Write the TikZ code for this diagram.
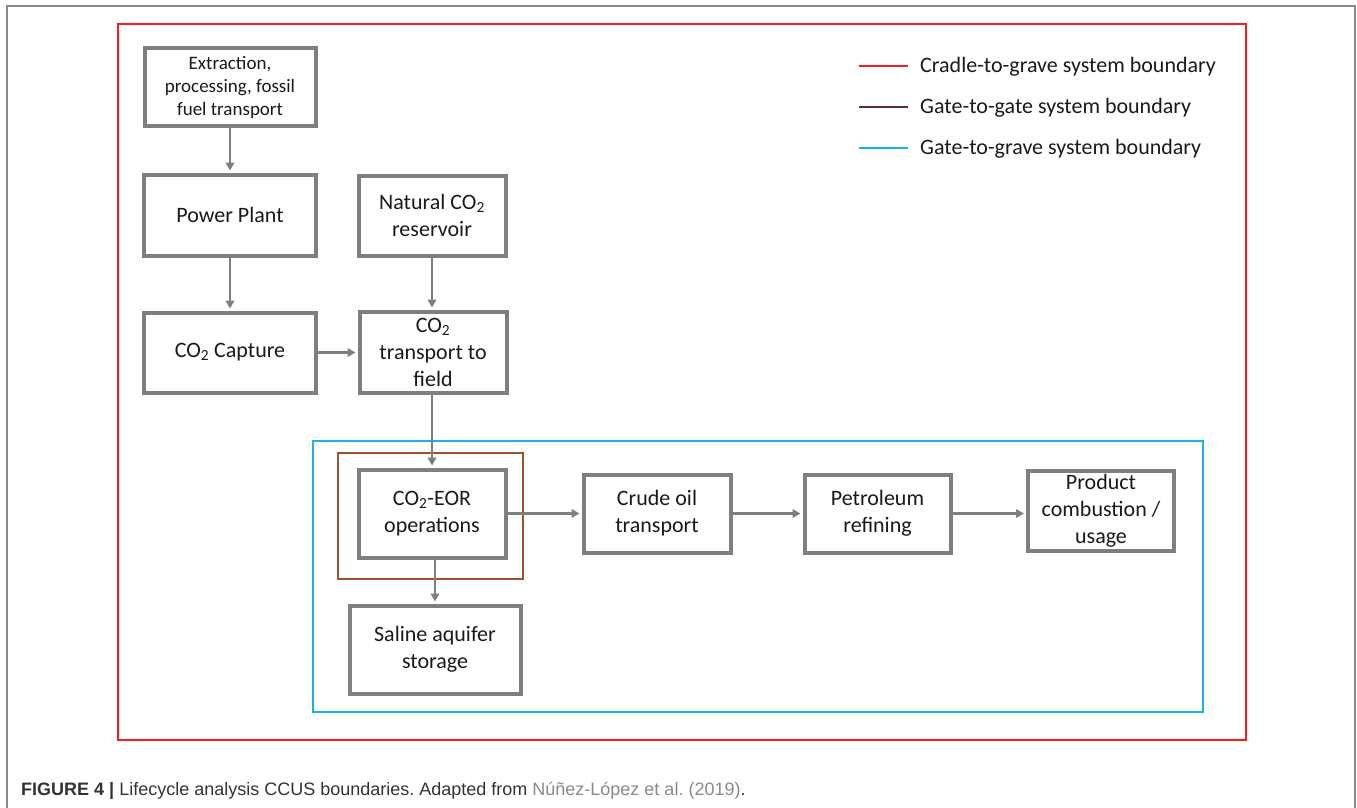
\documentclass[tikz,border=0pt]{standalone}
\usepackage{fontspec}
\setmainfont{Carlito}
\newfontfamily\capfont{Liberation Sans}
\usetikzlibrary{arrows.meta}
\definecolor{boxgray}{HTML}{7F7F7F}
\definecolor{framegray}{HTML}{8A8A8A}
\definecolor{cgred}{HTML}{FF1A1A}
\definecolor{ggbrown}{HTML}{A0522D}
\definecolor{ggleg}{HTML}{5A2E2E}
\definecolor{gblue}{HTML}{1CB2E8}
\definecolor{captext}{HTML}{333333}
\definecolor{linkgray}{HTML}{8A8A8A}
\definecolor{txt}{HTML}{1A1A1A}
\frenchspacing
\tikzset{
  box/.style={draw=boxgray, line width=4pt, fill=white, align=center, inner sep=0pt,
    text=txt, font=\fontsize{22}{27}\selectfont},
  smallbox/.style={box, font=\fontsize{19}{23}\selectfont},
  arr/.style={draw=boxgray, line width=2.8pt, shorten >=2pt,
    -{Triangle[length=8pt,width=8.5pt]}},
  legtext/.style={anchor=west, inner sep=0pt, text=txt, font=\fontsize{22}{26}\selectfont},
  legline/.style={line width=2.5pt},
}
\begin{document}
\begin{tikzpicture}[x=1pt,y=-1pt]
\useasboundingbox (0,0) rectangle (1357,808);
% outer frame (open at bottom)
\draw[framegray, line width=2pt] (7,808) -- (7,6) -- (1355,6) -- (1355,808);
% boundaries
\draw[cgred, line width=2.2pt] (118,24) rectangle (1246,740);
\draw[gblue, line width=2.2pt] (313,441) rectangle (1203,712);
\draw[ggbrown, line width=1.8pt] (338,453) rectangle (523,579);
% legend
\draw[cgred, legline] (859,66) -- (908,66);
\draw[ggleg, legline] (859,107) -- (908,107);
\draw[gblue, legline] (859,148) -- (908,148);
\node[legtext] (l1) at (920,67) {Cradle-to-grave system boundary};
\node[legtext] (l2) at (920,108) {Gate-to-gate system boundary};
\node[legtext] (l3) at (920,149) {Gate-to-grave system boundary};
% boxes
\node[smallbox, minimum width=171pt, minimum height=78pt] (ext) at (230,87)
  {Extraction,\\processing, fossil\\fuel transport};
\node[box, minimum width=172pt, minimum height=81pt] (pp) at (230,215) {Power Plant};
\node[box, minimum width=147pt, minimum height=80pt] (nat) at (432,215.5)
  {Natural CO\textsubscript{2}\\reservoir};
\node[box, minimum width=172pt, minimum height=80pt] (cap) at (230,352.5)
  {CO\textsubscript{2} Capture};
\node[box, minimum width=147pt, minimum height=81pt] (tr) at (433,352)
  {CO\textsubscript{2}\\transport to\\field};
\node[box, minimum width=147pt, minimum height=88pt] (eor) at (432,513.5)
  {CO\textsubscript{2}-EOR\\operations};
\node[box, minimum width=147pt, minimum height=78pt] (crude) at (657,513.5)
  {Crude oil\\transport};
\node[box, minimum width=146pt, minimum height=78pt] (pet) at (877.5,513.5)
  {Petroleum\\refining};
\node[box, minimum width=146pt, minimum height=80pt] (prod) at (1101,511)
  {Product\\combustion /\\usage};
\node[box, minimum width=171pt, minimum height=88pt] (sal) at (435,649.5)
  {Saline aquifer\\storage};
% arrows
\draw[arr] (ext.south) -- (pp.north);
\draw[arr] (pp.south) -- (cap.north);
\draw[arr] (nat.south) -- (nat.south |- tr.north);
\draw[arr] (cap.east) -- (cap.east -| tr.west);
\draw[arr] (tr.south -| eor.north) -- (eor.north);
\draw[arr] (eor.east) -- (eor.east -| crude.west);
\draw[arr] (crude.east) -- (crude.east -| pet.west);
\draw[arr] (pet.east) -- (pet.east -| prod.west);
\draw[arr] (sal.north |- eor.south) -- (sal.north);
% caption
\node[anchor=base west, inner sep=0pt, text=captext, font=\capfont\fontsize{18}{20}\selectfont]
  (caption) at (21,795)
  {\textbf{FIGURE 4 |} Lifecycle analysis CCUS boundaries. Adapted from \textcolor{linkgray}{Núñez-López et al. (2019)}.};
\end{tikzpicture}
\end{document}
